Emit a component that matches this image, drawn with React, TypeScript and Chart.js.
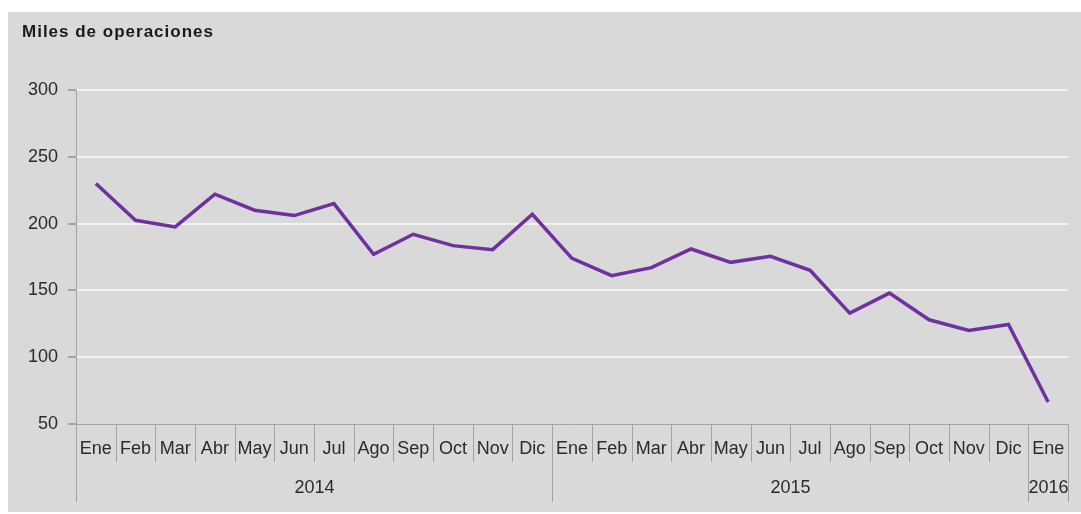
import React, { useEffect, useRef } from "react";
import { Chart, registerables } from "chart.js";

Chart.register(...registerables);

const titleText = "Miles de operaciones";
const months = [
  "Ene", "Feb", "Mar", "Abr", "May", "Jun", "Jul", "Ago", "Sep", "Oct", "Nov", "Dic",
  "Ene", "Feb", "Mar", "Abr", "May", "Jun", "Jul", "Ago", "Sep", "Oct", "Nov", "Dic",
  "Ene",
];
const years = ["2014", "2015", "2016"];
const yearStarts = [0, 12, 24];
const operaciones = [
  230, 202.5, 197.5, 222, 210, 206, 215, 177, 192, 183.5, 180.5, 207,
  174, 161, 167, 181, 171, 175.5, 165, 133, 148, 128, 120, 124.5,
  66.5,
];
const yMin = 50;
const yMax = 300;
const yStep = 50;

const BG = "#d9d9d9";
const AXIS = "#a3a3a3";
const GRID = "#f2f2f2";
const TEXT = "#2b2b2b";
const LINE = "#7030a0";
const FONT = "'Liberation Sans', Arial, sans-serif";

const decorPlugin = {
  id: "decor",
  beforeDraw(chart: any) {
    const { ctx, width, height } = chart;
    ctx.save();
    ctx.fillStyle = BG;
    ctx.fillRect(0, 0, width, height);
    ctx.restore();
  },
  afterDraw(chart: any) {
    const { ctx, chartArea } = chart;
    const x = chart.scales.x;
    const n = months.length;
    const half = (x.getPixelForValue(1) - x.getPixelForValue(0)) / 2;
    const bottom = chartArea.bottom;
    const edge = (i: number) => Math.round(x.getPixelForValue(i) - half) + 0.5;
    const yearBounds = [...yearStarts, n];

    ctx.save();
    ctx.strokeStyle = AXIS;
    ctx.lineWidth = 1;
    ctx.beginPath();
    const ax = Math.round(chartArea.left) + 0.5;
    ctx.moveTo(ax, chartArea.top);
    ctx.lineTo(ax, bottom + 78);
    const by = Math.round(bottom) + 0.5;
    ctx.moveTo(chartArea.left, by);
    ctx.lineTo(edge(n), by);
    for (let i = 1; i <= n; i++) {
      const px = edge(i);
      const isYear = yearBounds.includes(i);
      ctx.moveTo(px, by);
      ctx.lineTo(px, bottom + (isYear ? 78 : 38));
    }
    ctx.stroke();

    ctx.fillStyle = TEXT;
    ctx.font = `18px ${FONT}`;
    ctx.textAlign = "center";
    ctx.textBaseline = "middle";
    for (let k = 0; k < years.length; k++) {
      const a = edge(yearBounds[k]);
      const b = edge(yearBounds[k + 1]);
      ctx.fillText(years[k], (a + b) / 2, bottom + 64);
    }

    ctx.font = `bold 17px ${FONT}`;
    (ctx as any).letterSpacing = "1px";
    ctx.textAlign = "left";
    ctx.fillStyle = "#1a1a1a";
    ctx.fillText(titleText, 14, 20);
    ctx.restore();
  },
};

export default function App() {
  const ref = useRef<HTMLCanvasElement>(null);

  useEffect(() => {
    if (!ref.current) return;
    const chart = new Chart(ref.current, {
      type: "line",
      data: {
        labels: months,
        datasets: [
          {
            label: titleText,
            data: operaciones,
            borderColor: LINE,
            borderWidth: 3.5,
            pointRadius: 0,
            tension: 0,
            fill: false,
          },
        ],
      },
      options: {
        animation: false,
        responsive: true,
        maintainAspectRatio: false,
        layout: { padding: { top: 78, right: 13, bottom: 0, left: 0 } },
        plugins: {
          legend: { display: false },
          title: { display: false },
          tooltip: { enabled: false },
        },
        scales: {
          x: {
            type: "category",
            offset: true,
            grid: { display: false, drawTicks: false },
            border: { display: false },
            ticks: {
              autoSkip: false,
              maxRotation: 0,
              minRotation: 0,
              padding: 14,
              color: TEXT,
              font: { family: FONT, size: 18 },
            },
            afterFit: (s: any) => {
              s.height = 88;
            },
          },
          y: {
            min: yMin,
            max: yMax,
            border: { display: false },
            grid: {
              color: (c: any) => (c.tick && c.tick.value === yMin ? "rgba(0,0,0,0)" : GRID),
              lineWidth: 2,
              tickColor: AXIS,
              tickLength: 8,
              drawTicks: true,
            },
            ticks: {
              stepSize: yStep,
              padding: 10,
              color: TEXT,
              font: { family: FONT, size: 18 },
            },
            afterFit: (s: any) => {
              s.width = 68;
            },
          },
        },
      },
      plugins: [decorPlugin],
    });
    return () => chart.destroy();
  }, []);

  return (
    <div style={{ position: "absolute", left: 8, top: 12, width: 1073, height: 500 }}>
      <canvas ref={ref} />
    </div>
  );
}
